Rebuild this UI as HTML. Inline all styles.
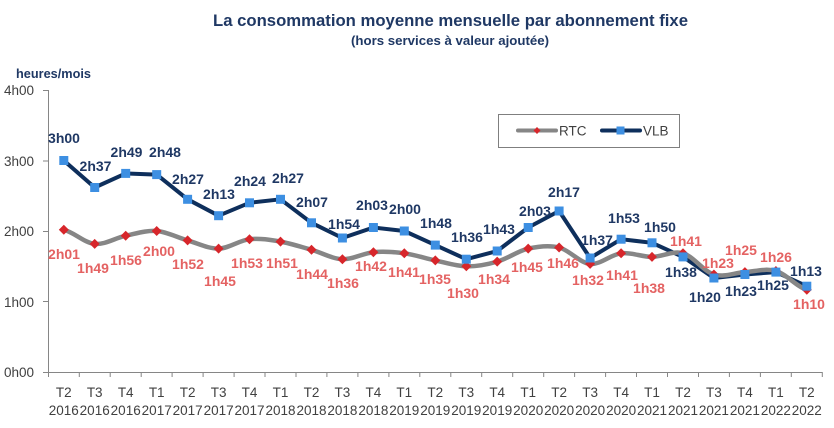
<!DOCTYPE html>
<html><head><meta charset="utf-8"><style>
html,body{margin:0;padding:0;background:#fff;}
svg{display:block;font-family:"Liberation Sans",sans-serif;}
.lv{font-size:14px;font-weight:bold;fill:#1f3864;text-anchor:middle;}
.lr{font-size:14px;font-weight:bold;fill:#e46262;text-anchor:middle;}
.tk{font-size:13.5px;fill:#404040;text-anchor:middle;}
.yt{font-size:13.5px;fill:#404040;text-anchor:end;}
</style></head><body>
<svg width="834" height="428" viewBox="0 0 834 428" xmlns="http://www.w3.org/2000/svg">
<rect width="834" height="428" fill="#fff"/>
<text x="213" y="26" font-size="17" font-weight="bold" fill="#1f3864" textLength="475" lengthAdjust="spacingAndGlyphs">La consommation moyenne mensuelle par abonnement fixe</text>
<text x="351" y="45" font-size="13" font-weight="bold" fill="#1f3864" textLength="198" lengthAdjust="spacingAndGlyphs">(hors services à valeur ajoutée)</text>
<text x="16" y="78" font-size="13" font-weight="bold" fill="#1f3864" textLength="75" lengthAdjust="spacingAndGlyphs">heures/mois</text>

<!-- axes -->
<g stroke="#868686" stroke-width="1" fill="none">
<line x1="48.5" y1="90" x2="48.5" y2="372.5"/>
<line x1="43" y1="90.5" x2="48.5" y2="90.5"/>
<line x1="43" y1="161" x2="48.5" y2="161"/>
<line x1="43" y1="231.5" x2="48.5" y2="231.5"/>
<line x1="43" y1="301.5" x2="48.5" y2="301.5"/>
<line x1="43" y1="372.5" x2="822.5" y2="372.5"/>
<path d="M48.5 372v5M79.3 372v5M110.2 372v5M141.2 372v5M172.1 372v5M203.1 372v5M234.1 372v5M265 372v5M296 372v5M326.9 372v5M357.9 372v5M388.9 372v5M419.8 372v5M450.8 372v5M481.7 372v5M512.7 372v5M543.7 372v5M574.6 372v5M605.6 372v5M636.5 372v5M667.5 372v5M698.5 372v5M729.4 372v5M760.4 372v5M791.3 372v5M822.3 372v5"/>
</g>
<text class="yt" x="34" y="95">4h00</text>
<text class="yt" x="34" y="166">3h00</text>
<text class="yt" x="34" y="236">2h00</text>
<text class="yt" x="34" y="307">1h00</text>
<text class="yt" x="34" y="377">0h00</text>

<!-- x labels -->
<g class="tk">
<text x="63.8" y="397">T2</text><text x="63.8" y="415">2016</text>
<text x="94.7" y="397">T3</text><text x="94.7" y="415">2016</text>
<text x="125.7" y="397">T4</text><text x="125.7" y="415">2016</text>
<text x="156.7" y="397">T1</text><text x="156.7" y="415">2017</text>
<text x="187.6" y="397">T2</text><text x="187.6" y="415">2017</text>
<text x="218.6" y="397">T3</text><text x="218.6" y="415">2017</text>
<text x="249.5" y="397">T4</text><text x="249.5" y="415">2017</text>
<text x="280.5" y="397">T1</text><text x="280.5" y="415">2018</text>
<text x="311.5" y="397">T2</text><text x="311.5" y="415">2018</text>
<text x="342.4" y="397">T3</text><text x="342.4" y="415">2018</text>
<text x="373.4" y="397">T4</text><text x="373.4" y="415">2018</text>
<text x="404.3" y="397">T1</text><text x="404.3" y="415">2019</text>
<text x="435.3" y="397">T2</text><text x="435.3" y="415">2019</text>
<text x="466.3" y="397">T3</text><text x="466.3" y="415">2019</text>
<text x="497.2" y="397">T4</text><text x="497.2" y="415">2019</text>
<text x="528.2" y="397">T1</text><text x="528.2" y="415">2020</text>
<text x="559.1" y="397">T2</text><text x="559.1" y="415">2020</text>
<text x="590.1" y="397">T3</text><text x="590.1" y="415">2020</text>
<text x="621.1" y="397">T4</text><text x="621.1" y="415">2020</text>
<text x="652" y="397">T1</text><text x="652" y="415">2021</text>
<text x="683" y="397">T2</text><text x="683" y="415">2021</text>
<text x="713.9" y="397">T3</text><text x="713.9" y="415">2021</text>
<text x="744.9" y="397">T4</text><text x="744.9" y="415">2021</text>
<text x="775.9" y="397">T1</text><text x="775.9" y="415">2022</text>
<text x="806.8" y="397">T2</text><text x="806.8" y="415">2022</text>
</g>

<!-- VLB line -->
<polyline fill="none" stroke="#0e2f5c" stroke-width="4" stroke-linejoin="round" points="63.8,160.5 94.7,187.5 125.7,173.4 156.7,174.6 187.6,199.3 218.6,215.7 249.5,202.8 280.5,199.3 311.5,222.8 342.4,238.0 373.4,227.5 404.3,231.0 435.3,245.1 466.3,259.2 497.2,251.0 528.2,227.5 559.1,211.0 590.1,258.0 621.1,239.2 652.0,242.8 683.0,256.9 713.9,278.0 744.9,274.5 775.9,272.1 806.8,286.2"/>

<!-- RTC smoothed line -->
<path fill="none" stroke="#868686" stroke-width="4.5" stroke-linecap="round" d="M63.8,229.8 C74.1,232.2 84.4,242.9 94.7,243.9 C105.1,244.9 115.4,237.9 125.7,235.7 C136.0,233.6 146.3,230.2 156.7,231.0 C167.0,231.8 177.3,237.5 187.6,240.4 C197.9,243.3 208.3,248.8 218.6,248.6 C228.9,248.4 239.2,240.4 249.5,239.2 C259.9,238.0 270.2,239.8 280.5,241.6 C290.8,243.4 301.1,246.9 311.5,249.8 C321.8,252.7 332.1,258.8 342.4,259.2 C352.7,259.6 363.1,253.2 373.4,252.2 C383.7,251.2 394.0,251.9 404.3,253.3 C414.7,254.7 425.0,258.2 435.3,260.4 C445.6,262.6 455.9,266.1 466.3,266.3 C476.6,266.5 486.9,264.6 497.2,261.6 C507.5,258.7 517.9,251.0 528.2,248.6 C538.5,246.3 548.8,244.9 559.1,247.5 C569.5,250.1 579.8,262.9 590.1,263.9 C600.4,264.9 610.7,254.5 621.1,253.3 C631.4,252.1 641.7,256.9 652.0,256.9 C662.3,256.9 672.7,250.4 683.0,253.3 C693.3,256.2 703.6,271.4 713.9,274.5 C724.2,277.6 734.6,272.7 744.9,272.1 C755.2,271.5 765.5,268.0 775.9,271.0 C786.2,273.9 796.5,286.7 806.8,289.8"/>

<!-- RTC diamonds -->
<g fill="#d7262b">
<path d="M63.8,224.8l5,5l-5,5l-5,-5z"/>
<path d="M94.7,238.9l5,5l-5,5l-5,-5z"/>
<path d="M125.7,230.7l5,5l-5,5l-5,-5z"/>
<path d="M156.7,226.0l5,5l-5,5l-5,-5z"/>
<path d="M187.6,235.4l5,5l-5,5l-5,-5z"/>
<path d="M218.6,243.6l5,5l-5,5l-5,-5z"/>
<path d="M249.5,234.2l5,5l-5,5l-5,-5z"/>
<path d="M280.5,236.6l5,5l-5,5l-5,-5z"/>
<path d="M311.5,244.8l5,5l-5,5l-5,-5z"/>
<path d="M342.4,254.2l5,5l-5,5l-5,-5z"/>
<path d="M373.4,247.2l5,5l-5,5l-5,-5z"/>
<path d="M404.3,248.3l5,5l-5,5l-5,-5z"/>
<path d="M435.3,255.4l5,5l-5,5l-5,-5z"/>
<path d="M466.3,261.3l5,5l-5,5l-5,-5z"/>
<path d="M497.2,256.6l5,5l-5,5l-5,-5z"/>
<path d="M528.2,243.6l5,5l-5,5l-5,-5z"/>
<path d="M559.1,242.5l5,5l-5,5l-5,-5z"/>
<path d="M590.1,258.9l5,5l-5,5l-5,-5z"/>
<path d="M621.1,248.3l5,5l-5,5l-5,-5z"/>
<path d="M652.0,251.9l5,5l-5,5l-5,-5z"/>
<path d="M683.0,248.3l5,5l-5,5l-5,-5z"/>
<path d="M713.9,269.5l5,5l-5,5l-5,-5z"/>
<path d="M744.9,267.1l5,5l-5,5l-5,-5z"/>
<path d="M775.9,266.0l5,5l-5,5l-5,-5z"/>
<path d="M806.8,284.8l5,5l-5,5l-5,-5z"/>
</g>

<!-- VLB squares -->
<g fill="#3d8fe2">
<rect x="59.3" y="156" width="9" height="9"/>
<rect x="90.2" y="183" width="9" height="9"/>
<rect x="121.2" y="168.9" width="9" height="9"/>
<rect x="152.2" y="170.1" width="9" height="9"/>
<rect x="183.1" y="194.8" width="9" height="9"/>
<rect x="214.1" y="211.2" width="9" height="9"/>
<rect x="245" y="198.3" width="9" height="9"/>
<rect x="276" y="194.8" width="9" height="9"/>
<rect x="307" y="218.3" width="9" height="9"/>
<rect x="337.9" y="233.5" width="9" height="9"/>
<rect x="368.9" y="223" width="9" height="9"/>
<rect x="399.8" y="226.5" width="9" height="9"/>
<rect x="430.8" y="240.6" width="9" height="9"/>
<rect x="461.8" y="254.7" width="9" height="9"/>
<rect x="492.7" y="246.5" width="9" height="9"/>
<rect x="523.7" y="223" width="9" height="9"/>
<rect x="554.6" y="206.5" width="9" height="9"/>
<rect x="585.6" y="253.5" width="9" height="9"/>
<rect x="616.6" y="234.7" width="9" height="9"/>
<rect x="647.5" y="238.3" width="9" height="9"/>
<rect x="678.5" y="252.4" width="9" height="9"/>
<rect x="709.4" y="273.5" width="9" height="9"/>
<rect x="740.4" y="270" width="9" height="9"/>
<rect x="771.4" y="267.6" width="9" height="9"/>
<rect x="802.3" y="281.7" width="9" height="9"/>
</g>

<!-- VLB labels -->
<g class="lv">
<text x="64" y="143">3h00</text>
<text x="95.5" y="171">2h37</text>
<text x="126.5" y="157">2h49</text>
<text x="165" y="157">2h48</text>
<text x="188" y="184">2h27</text>
<text x="219" y="199">2h13</text>
<text x="250" y="186">2h24</text>
<text x="288" y="183">2h27</text>
<text x="312" y="207">2h07</text>
<text x="344" y="229">1h54</text>
<text x="372" y="210">2h03</text>
<text x="405" y="214">2h00</text>
<text x="436" y="228">1h48</text>
<text x="467" y="242">1h36</text>
<text x="499" y="234">1h43</text>
<text x="535" y="216">2h03</text>
<text x="564" y="197">2h17</text>
<text x="597" y="245">1h37</text>
<text x="624" y="223">1h53</text>
<text x="660" y="232">1h50</text>
<text x="681" y="277">1h38</text>
<text x="705" y="302">1h20</text>
<text x="741" y="296">1h23</text>
<text x="773" y="290">1h25</text>
<text x="806" y="276">1h13</text>
</g>

<!-- RTC labels -->
<g class="lr">
<text x="64" y="259">2h01</text>
<text x="93" y="273">1h49</text>
<text x="126" y="265">1h56</text>
<text x="159" y="256">2h00</text>
<text x="188" y="269">1h52</text>
<text x="220" y="286">1h45</text>
<text x="247" y="268">1h53</text>
<text x="282" y="268">1h51</text>
<text x="312" y="279">1h44</text>
<text x="343" y="288">1h36</text>
<text x="371" y="271">1h42</text>
<text x="404" y="277">1h41</text>
<text x="435" y="284">1h35</text>
<text x="463" y="298">1h30</text>
<text x="494" y="284">1h34</text>
<text x="527" y="272">1h45</text>
<text x="563" y="268">1h46</text>
<text x="588" y="285">1h32</text>
<text x="622" y="280">1h41</text>
<text x="649" y="293">1h38</text>
<text x="686" y="246">1h41</text>
<text x="718" y="268">1h23</text>
<text x="741" y="255">1h25</text>
<text x="776" y="262">1h26</text>
<text x="809" y="309">1h10</text>
</g>

<!-- legend -->
<rect x="498.5" y="114.5" width="181" height="33" fill="#fff" stroke="#7f7f7f" stroke-width="1"/>
<line x1="518" y1="130.5" x2="556" y2="130.5" stroke="#868686" stroke-width="4" stroke-linecap="round"/>
<path d="M537,127l3.5,3.5l-3.5,3.5l-3.5,-3.5z" fill="#d7262b"/>
<text x="559" y="135.5" font-size="13.5" fill="#404040">RTC</text>
<line x1="602" y1="130.5" x2="640" y2="130.5" stroke="#0e2f5c" stroke-width="4" stroke-linecap="round"/>
<rect x="616.5" y="126.5" width="8" height="8" fill="#3d8fe2"/>
<text x="643" y="135.5" font-size="13.5" fill="#404040">VLB</text>
</svg>
</body></html>
